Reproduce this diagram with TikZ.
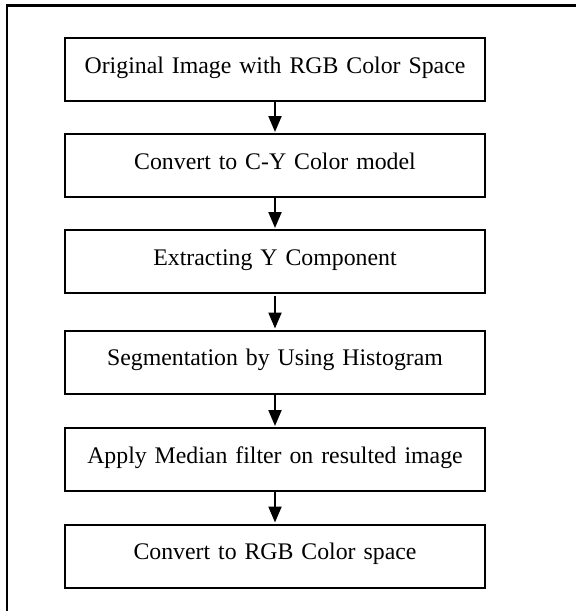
\documentclass[tikz,border=0pt]{standalone}
\usepackage{fontspec}
\setmainfont{Liberation Serif}
\usetikzlibrary{arrows.meta}
\begin{document}
\begin{tikzpicture}[x=1pt,y=-1pt,
  stepbox/.style={draw=black, line width=2.2pt, inner sep=0pt,
    text width=420pt, align=center, text height=35pt, text depth=28pt,
    anchor=north, font=\fontsize{23.8}{28}\selectfont},
  flow/.style={line width=2pt, -{Triangle[length=16pt,width=13pt]}, shorten >=1pt},
  frameline/.style={line width=2.5pt, line cap=rect}]
\useasboundingbox (0,0) rectangle (576,611);
\coordinate (ftl) at (7,5.7);
\coordinate (ftr) at (577,5.7);
\coordinate (fbl) at (7,612);
\draw[frameline] (ftr) -- (ftl) -- (fbl);
\node[stepbox] (b1) at (275,37) {Original Image with RGB Color Space};
\node[stepbox] (b2) at (275,133) {Convert to C-Y Color model};
\node[stepbox] (b3) at (275,229) {Extracting Y Component};
\node[stepbox] (b4) at (275,329.5) {Segmentation by Using Histogram};
\node[stepbox] (b5) at (275,427) {Apply Median filter on resulted image};
\node[stepbox] (b6) at (275,523.5) {Convert to RGB Color space};
\draw[flow] (b1.south) -- (b2.north);
\draw[flow] (b2.south) -- (b3.north);
\draw[flow] ([yshift=-2pt]b3.south) -- (b4.north);
\draw[flow] (b4.south) -- (b5.north);
\draw[flow] (b5.south) -- (b6.north);
\end{tikzpicture}
\end{document}
